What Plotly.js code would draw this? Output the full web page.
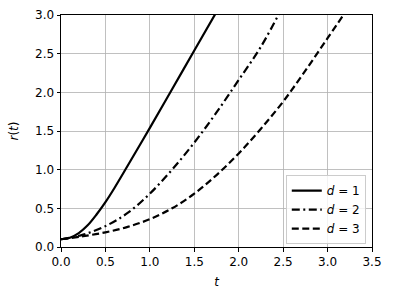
<!DOCTYPE html>
<html>
<head>
<meta charset="utf-8">
<script src="https://cdn.plot.ly/plotly-3.0.1.min.js"></script>
<style>html,body{margin:0;padding:0;background:#fff;}#plot{width:393px;height:299px;}</style>
</head>
<body>
<div id="plot"></div>
<script>
const t1 = [0, 0.1, 0.2, 0.3, 0.4, 0.5, 0.6, 0.75, 1.0, 1.25, 1.5, 1.75];
const r1 = [0.10, 0.12, 0.18, 0.28, 0.42, 0.58, 0.76, 1.05, 1.54, 2.04, 2.54, 3.04];
const t2 = [0, 0.25, 0.5, 0.75, 1.0, 1.25, 1.5, 1.75, 2.0, 2.25, 2.5];
const r2 = [0.10, 0.16, 0.27, 0.44, 0.69, 1.00, 1.35, 1.74, 2.16, 2.59, 3.12];
const t3 = [0, 0.25, 0.5, 0.75, 1.0, 1.25, 1.5, 1.75, 2.0, 2.25, 2.5, 2.75, 3.0, 3.25];
const r3 = [0.10, 0.14, 0.19, 0.26, 0.36, 0.50, 0.69, 0.93, 1.21, 1.53, 1.88, 2.28, 2.70, 3.12];
const labels = ['<i>d</i> = 1', '<i>d</i> = 2', '<i>d</i> = 3'];
const xTicks = [0, 0.5, 1, 1.5, 2, 2.5, 3, 3.5];
const yTicks = [0, 0.5, 1, 1.5, 2, 2.5, 3];

const font = {family: 'DejaVu Sans', size: 12, color: '#000'};
const traces = [
  {x: t1, y: r1, name: labels[0], mode: 'lines', line: {color: '#000', width: 2.2, shape: 'spline'}},
  {x: t2, y: r2, name: labels[1], mode: 'lines', line: {color: '#000', width: 2.2, dash: '8px,3.5px,2px,3.5px', shape: 'spline'}},
  {x: t3, y: r3, name: labels[2], mode: 'lines', line: {color: '#000', width: 2.2, dash: '7px,3.5px', shape: 'spline'}}
];
const axisCommon = {
  showline: true, linecolor: '#000', linewidth: 1, mirror: true,
  ticks: 'outside', ticklen: 3.5, tickwidth: 1, tickcolor: '#000',
  showgrid: true, gridcolor: '#b0b0b0', gridwidth: 0.8, zeroline: false,
  tickfont: font
};
const layout = {
  width: 393, height: 299,
  margin: {l: 61, r: 21, t: 15, b: 52},
  paper_bgcolor: '#fff', plot_bgcolor: '#fff',
  font: font,
  showlegend: true,
  xaxis: Object.assign({}, axisCommon, {
    range: [0, 3.5], tickvals: xTicks, ticktext: xTicks.map(v => v.toFixed(1)),
    title: {text: '<i>t</i>', font: font, standoff: 9}
  }),
  yaxis: Object.assign({}, axisCommon, {
    range: [0, 3], tickvals: yTicks, ticktext: yTicks.map(v => v.toFixed(1)),
    title: {text: '<i>r</i>(<i>t</i>)', font: font, standoff: 13}
  }),
  legend: {
    x: 0.98, y: 0.012, xanchor: 'right', yanchor: 'bottom',
    bgcolor: 'rgba(255,255,255,0.8)', bordercolor: '#cccccc', borderwidth: 1,
    font: font, tracegroupgap: 0, itemwidth: 30
  }
};
Plotly.newPlot('plot', traces, layout, {displayModeBar: false, staticPlot: true});
</script>
</body>
</html>
